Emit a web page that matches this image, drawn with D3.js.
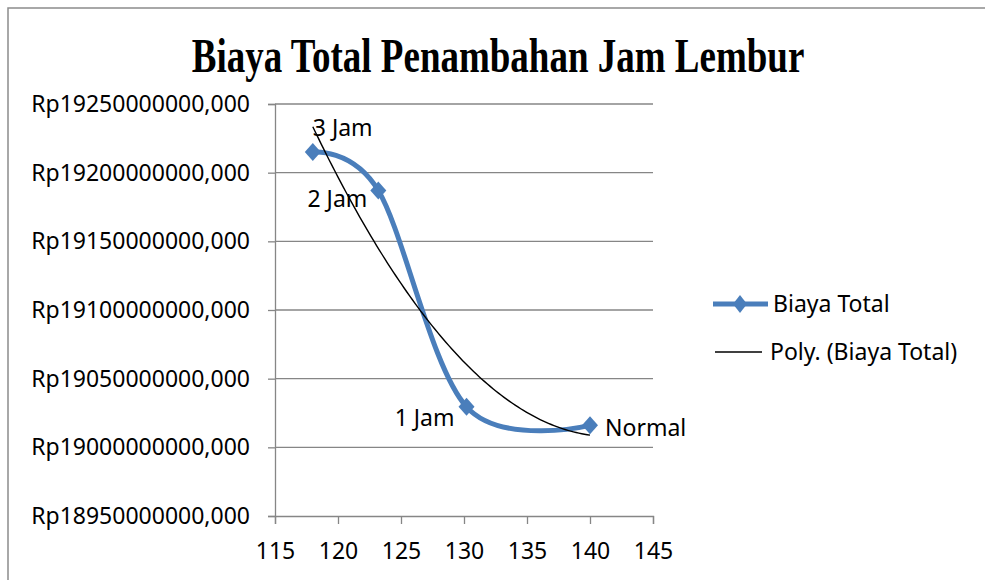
<!DOCTYPE html>
<html>
<head>
<meta charset="utf-8">
<script src="https://cdn.jsdelivr.net/npm/d3@7"></script>
<style>
  body { margin: 0; background: #fff; }
  svg { display: block; }
  text { font-family: "Noto Sans", "Open Sans", sans-serif; fill: #000; }
</style>
</head>
<body>
<svg id="chart" width="985" height="580"></svg>
<script>
// data
const jamLembur = [118, 123.2, 130.2, 140];
const biayaTotal = [19215000000, 19187000000, 19029500000, 19016000000];
const pointLabels = ["3 Jam", "2 Jam", "1 Jam", "Normal"];
const xTicks = [115, 120, 125, 130, 135, 140, 145];
const yTicks = [18950000000, 19000000000, 19050000000, 19100000000, 19150000000, 19200000000, 19250000000];
const seriesName = "Biaya Total";
const trendName = "Poly. (Biaya Total)";
const title = "Biaya Total Penambahan Jam Lembur";

const CHART = {
    left: 275,
    right: 653,
    top: 104,
    bottom: 516,
    blue: "#4a7ebb",
    grid: "#868686",
};

const svg = d3.select("#chart");

// outer frame
svg.append("rect")
    .attr("x", 8).attr("y", 8)
    .attr("width", 1000).attr("height", 600)
    .attr("fill", "none")
    .attr("stroke", "#8c8c8c")
    .attr("stroke-width", 1.5);

// title (the original font is drawn a bit taller than wide)
svg.append("text")
    .attr("transform", "translate(498,72) scale(1,1.3)")
    .attr("text-anchor", "middle")
    .style("font-family", "'Liberation Serif', 'Times New Roman', serif")
    .style("font-weight", "bold")
    .style("font-size", "37px")
    .text(title);

const x = d3.scaleLinear()
    .domain([xTicks[0], xTicks[xTicks.length - 1]])
    .range([CHART.left, CHART.right]);
const y = d3.scaleLinear()
    .domain([yTicks[0], yTicks[yTicks.length - 1]])
    .range([CHART.bottom, CHART.top]);

// gridlines
svg.append("g")
    .selectAll("line")
    .data(yTicks.slice(1))
    .join("line")
    .attr("x1", CHART.left).attr("x2", CHART.right)
    .attr("y1", (d) => y(d)).attr("y2", (d) => y(d))
    .attr("stroke", CHART.grid)
    .attr("stroke-width", 1.3);

// axes
const fmtRp = (v) => "Rp" + d3.format(".3f")(v).replace(".", ",");

const yAxis = svg.append("g")
    .attr("transform", `translate(${CHART.left},0)`)
    .call(d3.axisLeft(y).tickValues(yTicks).tickFormat(fmtRp).tickSize(7).tickPadding(18));
const xAxis = svg.append("g")
    .attr("transform", `translate(0,${CHART.bottom})`)
    .call(d3.axisBottom(x).tickValues(xTicks).tickFormat(d3.format("d")).tickSize(8).tickPadding(19));

[yAxis, xAxis].forEach((ax) => {
    ax.select(".domain").attr("stroke", CHART.grid).attr("stroke-width", 1.3);
    ax.selectAll(".tick line").attr("stroke", CHART.grid).attr("stroke-width", 1.3);
    ax.selectAll(".tick text")
        .style("font-family", "'Noto Sans', sans-serif")
        .style("font-size", "23px")
        .attr("fill", "#000");
});

// series, smoothed like the spreadsheet line
const pts = jamLembur.map((v, i) => [x(v), y(biayaTotal[i])]);
svg.append("path")
    .attr("d", d3.line().curve(d3.curveCardinal.tension(0))(pts))
    .attr("fill", "none")
    .attr("stroke", CHART.blue)
    .attr("stroke-width", 5)
    .attr("stroke-linecap", "round");

const diamond = (w, h) => `M0,${-h}L${w},0L0,${h}L${-w},0Z`;
svg.append("g")
    .selectAll("path")
    .data(pts)
    .join("path")
    .attr("transform", (d) => `translate(${d[0]},${d[1]})`)
    .attr("d", diamond(8, 9))
    .attr("fill", CHART.blue);

// polynomial (order 2) trendline, least squares fit
function polyFit2(xs, ys) {
    const n = xs.length;
    const m = d3.mean(xs);
    const u = xs.map((v) => v - m);
    const s = (f) => d3.sum(u.map((ui, i) => f(ui, ys[i])));
    const A = [
        [n, s((a) => a), s((a) => a * a)],
        [s((a) => a), s((a) => a * a), s((a) => a ** 3)],
        [s((a) => a * a), s((a) => a ** 3), s((a) => a ** 4)],
    ];
    const B = [s((a, b) => b), s((a, b) => a * b), s((a, b) => a * a * b)];
    // gaussian elimination
    for (let i = 0; i < 3; i++) {
        for (let k = i + 1; k < 3; k++) {
            const f = A[k][i] / A[i][i];
            for (let j = i; j < 3; j++) A[k][j] -= f * A[i][j];
            B[k] -= f * B[i];
        }
    }
    const c = [0, 0, 0];
    for (let i = 2; i >= 0; i--) {
        let sum = B[i];
        for (let j = i + 1; j < 3; j++) sum -= A[i][j] * c[j];
        c[i] = sum / A[i][i];
    }
    return (v) => c[0] + c[1] * (v - m) + c[2] * (v - m) ** 2;
}

const trend = polyFit2(jamLembur, biayaTotal);
const x0 = d3.min(jamLembur), x1 = d3.max(jamLembur);
const trendPts = d3.range(0, 101).map((i) => x0 + (x1 - x0) * i / 100);
svg.append("path")
    .attr("d", d3.line().x((d) => x(d)).y((d) => y(trend(d)))(trendPts))
    .attr("fill", "none")
    .attr("stroke", "#000")
    .attr("stroke-width", 1.4);

// data labels
const labelPos = [
    { dx: 0, dy: -24, anchor: "start" },
    { dx: -11, dy: 8, anchor: "end" },
    { dx: -12, dy: 11, anchor: "end" },
    { dx: 15, dy: 3, anchor: "start" },
];
svg.append("g")
    .selectAll("text")
    .data(pointLabels)
    .join("text")
    .attr("x", (d, i) => pts[i][0] + labelPos[i].dx)
    .attr("y", (d, i) => pts[i][1] + labelPos[i].dy)
    .attr("dy", "0.35em")
    .attr("text-anchor", (d, i) => labelPos[i].anchor)
    .style("font-size", "23px")
    .text((d) => d);

// legend
const legend = svg.append("g");
legend.append("line")
    .attr("x1", 713).attr("x2", 768).attr("y1", 304).attr("y2", 304)
    .attr("stroke", CHART.blue).attr("stroke-width", 5);
legend.append("path")
    .attr("transform", "translate(740,304)")
    .attr("d", diamond(7, 9))
    .attr("fill", CHART.blue);
legend.append("text")
    .attr("x", 773).attr("y", 304).attr("dy", "0.35em")
    .style("font-size", "23px")
    .text(seriesName);
legend.append("line")
    .attr("x1", 715).attr("x2", 762).attr("y1", 352).attr("y2", 352)
    .attr("stroke", "#000").attr("stroke-width", 1.4);
legend.append("text")
    .attr("x", 770).attr("y", 352).attr("dy", "0.35em")
    .style("font-size", "23px")
    .text(trendName);
</script>
</body>
</html>
